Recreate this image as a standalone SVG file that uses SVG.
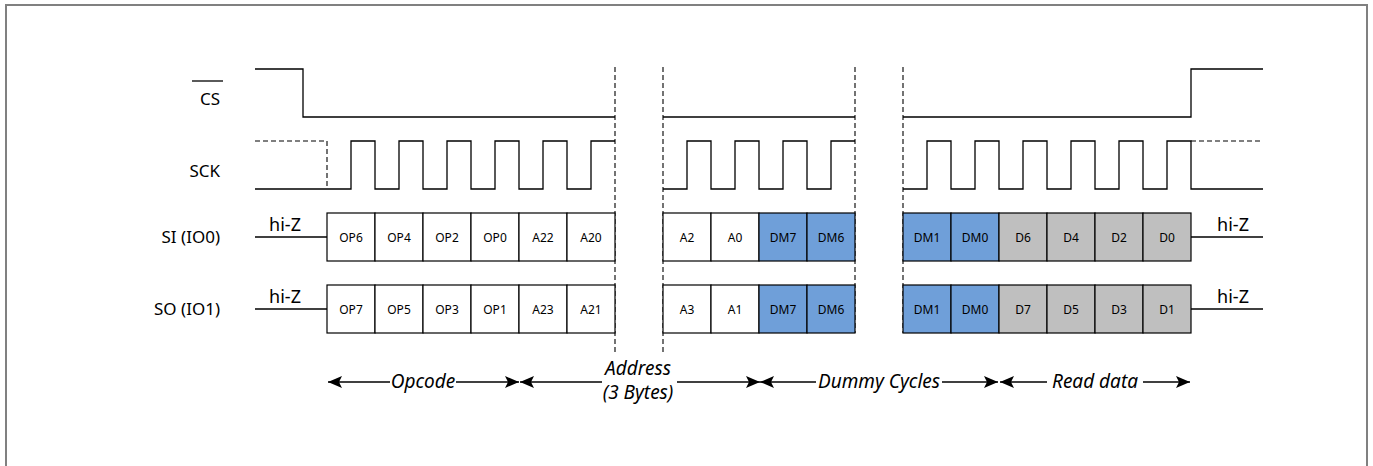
<svg xmlns="http://www.w3.org/2000/svg" width="1373" height="466" viewBox="0 0 1373 466">
<style>
.sig{fill:none;stroke:#000;stroke-width:1.3}
.dash{fill:none;stroke:#000;stroke-width:1.1;stroke-dasharray:5,3}
.lbl{font-family:"Noto Sans",sans-serif;font-size:17px;fill:#000;text-anchor:end}
.hz{font-family:"Noto Sans",sans-serif;font-size:18px;fill:#000;text-anchor:middle}
.bx{stroke:#000;stroke-width:1.2;fill:#fff}
.blue{fill:#6f9fd9}
.gray{fill:#bfbfbf}
.bt{font-family:"Noto Sans",sans-serif;font-size:12px;fill:#000;text-anchor:middle}
.it{font-family:"Noto Sans",sans-serif;font-style:italic;font-size:19px;fill:#000;text-anchor:middle}
.arr{fill:none;stroke:#000;stroke-width:1.3}
</style>
<defs>
<marker id="ah" viewBox="0 0 14 12" refX="14" refY="6" markerWidth="14" markerHeight="12" markerUnits="userSpaceOnUse" orient="auto-start-reverse">
<path d="M0,0 L14,6 L0,12 L3,6 z" fill="#000"/>
</marker>
</defs>
<rect width="1373" height="466" fill="#fff"/>
<path d="M6,466 V5 H1367 V466" fill="none" stroke="#808080" stroke-width="2"/>

<g id="labels">
<text class="lbl" x="220" y="105">CS</text>
<line x1="192" y1="81" x2="223" y2="81" stroke="#000" stroke-width="1.3"/>
<text class="lbl" x="220" y="177">SCK</text>
<text class="lbl" x="220" y="243">SI (IO0)</text>
<text class="lbl" x="220" y="315">SO (IO1)</text>
</g>

<g id="separators">
<line class="dash" x1="615" y1="67" x2="615" y2="355"/>
<line class="dash" x1="663" y1="67" x2="663" y2="355"/>
<line class="dash" x1="855" y1="67" x2="855" y2="333"/>
<line class="dash" x1="903" y1="67" x2="903" y2="333"/>
</g>

<g id="cs">
<path class="sig" d="M255,69 H303 V117 H615"/>
<path class="sig" d="M663,117 H855"/>
<path class="sig" d="M903,117 H1191 V69 H1263"/>
</g>

<g id="sck">
<path class="dash" d="M255,141 H327 V189"/>
<path class="sig" d="M255,189 H351 V141 H375 V189 H399 V141 H423 V189 H447 V141 H471 V189 H495 V141 H519 V189 H543 V141 H567 V189 H591 V141 H615"/>
<path class="sig" d="M663,189 H687 V141 H711 V189 H735 V141 H759 V189 H783 V141 H807 V189 H831 V141 H855"/>
<path class="sig" d="M903,189 H927 V141 H951 V189 H975 V141 H999 V189 H1023 V141 H1047 V189 H1071 V141 H1095 V189 H1119 V141 H1143 V189 H1167 V141 H1191 V189 H1263"/>
<path class="dash" d="M1191,141 H1263"/>
</g>

<g id="si">
<path class="sig" d="M255,237 H327"/>
<path class="sig" d="M1191,237 H1263"/>
<text class="hz" x="285" y="231">hi-Z</text>
<text class="hz" x="1233" y="231">hi-Z</text>
<rect class="bx" x="327" y="213" width="48" height="48"/>
<rect class="bx" x="375" y="213" width="48" height="48"/>
<rect class="bx" x="423" y="213" width="48" height="48"/>
<rect class="bx" x="471" y="213" width="48" height="48"/>
<rect class="bx" x="519" y="213" width="48" height="48"/>
<rect class="bx" x="567" y="213" width="48" height="48"/>
<rect class="bx" x="663" y="213" width="48" height="48"/>
<rect class="bx" x="711" y="213" width="48" height="48"/>
<rect class="bx blue" x="759" y="213" width="48" height="48"/>
<rect class="bx blue" x="807" y="213" width="48" height="48"/>
<rect class="bx blue" x="903" y="213" width="48" height="48"/>
<rect class="bx blue" x="951" y="213" width="48" height="48"/>
<rect class="bx gray" x="999" y="213" width="48" height="48"/>
<rect class="bx gray" x="1047" y="213" width="48" height="48"/>
<rect class="bx gray" x="1095" y="213" width="48" height="48"/>
<rect class="bx gray" x="1143" y="213" width="48" height="48"/>
<text class="bt" x="351" y="242">OP6</text>
<text class="bt" x="399" y="242">OP4</text>
<text class="bt" x="447" y="242">OP2</text>
<text class="bt" x="495" y="242">OP0</text>
<text class="bt" x="543" y="242">A22</text>
<text class="bt" x="591" y="242">A20</text>
<text class="bt" x="687" y="242">A2</text>
<text class="bt" x="735" y="242">A0</text>
<text class="bt" x="783" y="242">DM7</text>
<text class="bt" x="831" y="242">DM6</text>
<text class="bt" x="927" y="242">DM1</text>
<text class="bt" x="975" y="242">DM0</text>
<text class="bt" x="1023" y="242">D6</text>
<text class="bt" x="1071" y="242">D4</text>
<text class="bt" x="1119" y="242">D2</text>
<text class="bt" x="1167" y="242">D0</text>
</g>

<g id="so">
<path class="sig" d="M255,309 H327"/>
<path class="sig" d="M1191,309 H1263"/>
<text class="hz" x="285" y="303">hi-Z</text>
<text class="hz" x="1233" y="303">hi-Z</text>
<rect class="bx" x="327" y="285" width="48" height="48"/>
<rect class="bx" x="375" y="285" width="48" height="48"/>
<rect class="bx" x="423" y="285" width="48" height="48"/>
<rect class="bx" x="471" y="285" width="48" height="48"/>
<rect class="bx" x="519" y="285" width="48" height="48"/>
<rect class="bx" x="567" y="285" width="48" height="48"/>
<rect class="bx" x="663" y="285" width="48" height="48"/>
<rect class="bx" x="711" y="285" width="48" height="48"/>
<rect class="bx blue" x="759" y="285" width="48" height="48"/>
<rect class="bx blue" x="807" y="285" width="48" height="48"/>
<rect class="bx blue" x="903" y="285" width="48" height="48"/>
<rect class="bx blue" x="951" y="285" width="48" height="48"/>
<rect class="bx gray" x="999" y="285" width="48" height="48"/>
<rect class="bx gray" x="1047" y="285" width="48" height="48"/>
<rect class="bx gray" x="1095" y="285" width="48" height="48"/>
<rect class="bx gray" x="1143" y="285" width="48" height="48"/>
<text class="bt" x="351" y="314">OP7</text>
<text class="bt" x="399" y="314">OP5</text>
<text class="bt" x="447" y="314">OP3</text>
<text class="bt" x="495" y="314">OP1</text>
<text class="bt" x="543" y="314">A23</text>
<text class="bt" x="591" y="314">A21</text>
<text class="bt" x="687" y="314">A3</text>
<text class="bt" x="735" y="314">A1</text>
<text class="bt" x="783" y="314">DM7</text>
<text class="bt" x="831" y="314">DM6</text>
<text class="bt" x="927" y="314">DM1</text>
<text class="bt" x="975" y="314">DM0</text>
<text class="bt" x="1023" y="314">D7</text>
<text class="bt" x="1071" y="314">D5</text>
<text class="bt" x="1119" y="314">D3</text>
<text class="bt" x="1167" y="314">D1</text>
</g>

<g id="connectors">
<line class="arr" x1="390" y1="382" x2="328" y2="382" marker-end="url(#ah)"/>
<line class="arr" x1="456" y1="382" x2="519" y2="382" marker-end="url(#ah)"/>
<line class="arr" x1="602" y1="382" x2="520" y2="382" marker-end="url(#ah)"/>
<line class="arr" x1="677" y1="382" x2="760" y2="382" marker-end="url(#ah)"/>
<line class="arr" x1="816" y1="382" x2="760" y2="382" marker-end="url(#ah)"/>
<line class="arr" x1="942" y1="382" x2="998" y2="382" marker-end="url(#ah)"/>
<line class="arr" x1="1047" y1="382" x2="1000" y2="382" marker-end="url(#ah)"/>
<line class="arr" x1="1143" y1="382" x2="1190" y2="382" marker-end="url(#ah)"/>
</g>

<g id="phase-labels">
<text class="it" x="423" y="388">Opcode</text>
<text class="it" x="638" y="375">Address</text>
<text class="it" x="638" y="399">(3 Bytes)</text>
<text class="it" x="879" y="388">Dummy Cycles</text>
<text class="it" x="1095" y="388">Read data</text>
</g>
</svg>
